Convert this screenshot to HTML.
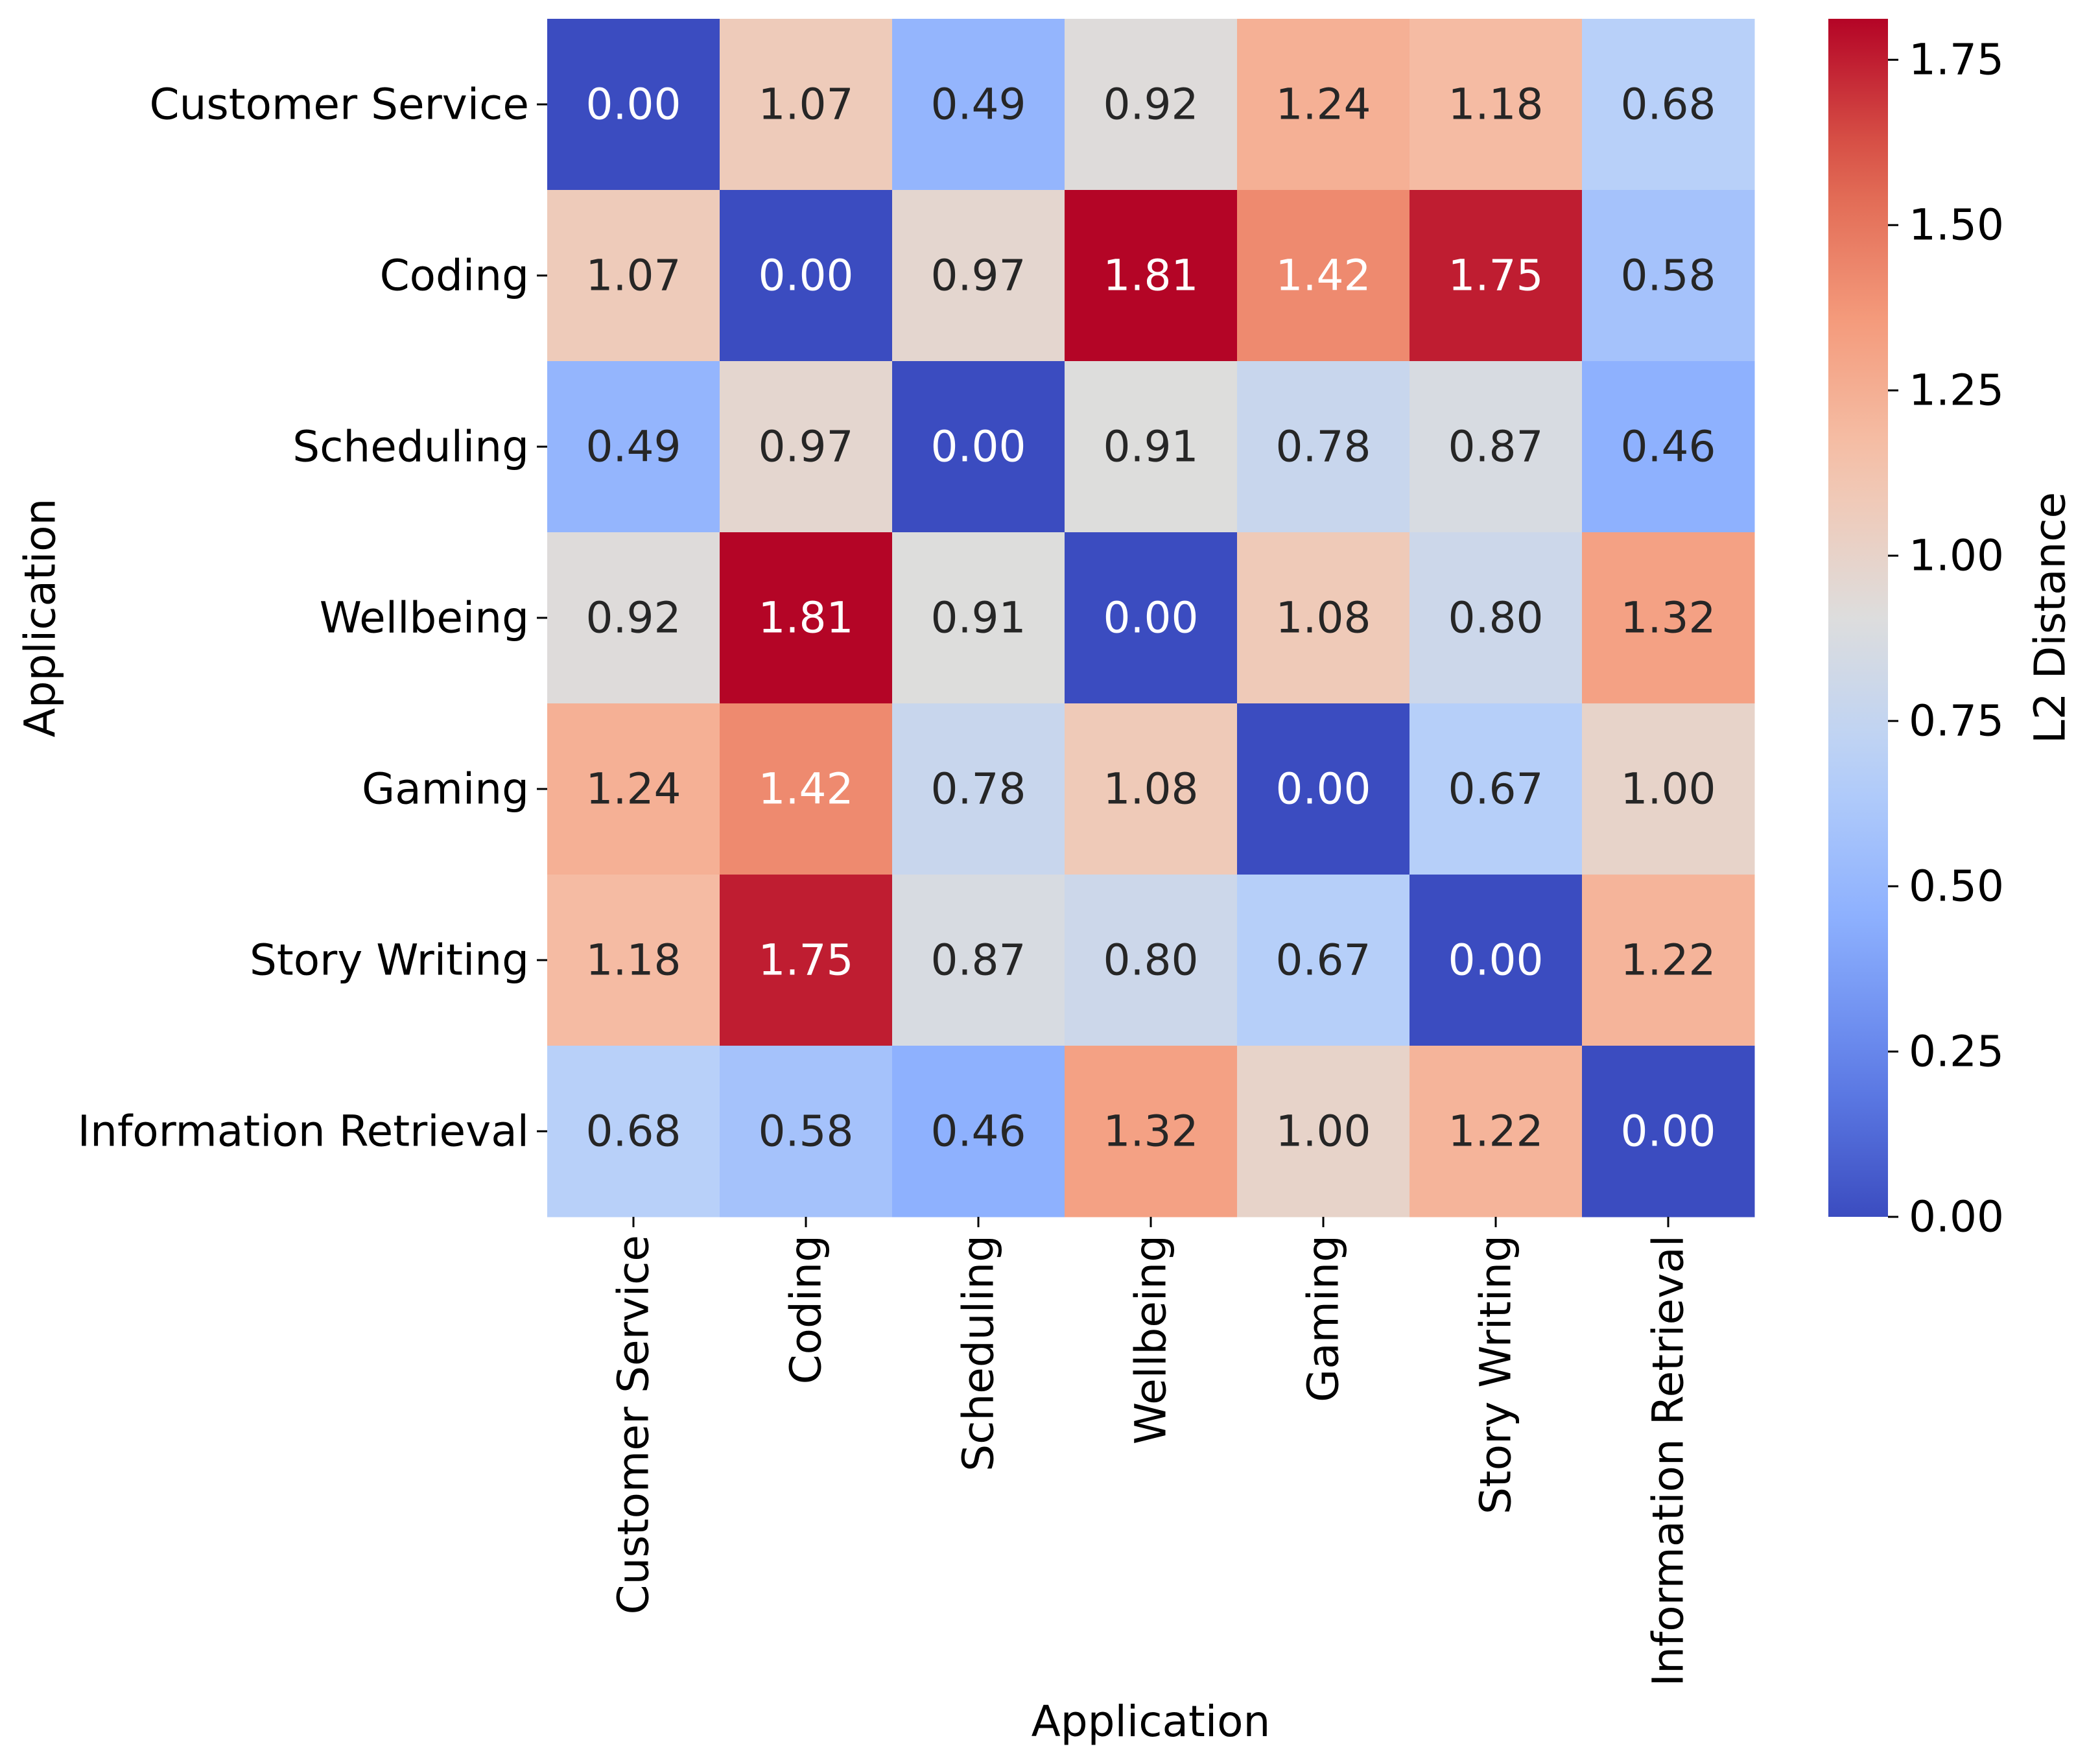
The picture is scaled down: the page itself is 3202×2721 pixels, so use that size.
<!DOCTYPE html>
<html><head><meta charset="utf-8">
<style>
html,body{margin:0;padding:0;background:#fff;}
svg{display:block;}
text{font-family:"DejaVu Sans","Liberation Sans",sans-serif;}
</style></head>
<body>
<svg id="chart" width="3202" height="2721" viewBox="0 0 3202 2721" xmlns="http://www.w3.org/2000/svg">
<defs><linearGradient id="cbgrad" x1="0" y1="1" x2="0" y2="0"></linearGradient></defs>
<g id="cells"></g>
<g id="ylabels"></g>
<g id="xlabels"></g>
<g id="cbar"></g>
<text x="1775" y="2678" font-size="66" text-anchor="middle">Application</text>
<text transform="translate(62,953) rotate(-90)" font-size="66" text-anchor="middle" dominant-baseline="central">Application</text>
<text transform="translate(3162,953) rotate(-90)" font-size="66" text-anchor="middle" dominant-baseline="central">L2 Distance</text>
</svg>
<script>
const categories = ["Customer Service","Coding","Scheduling","Wellbeing","Gaming","Story Writing","Information Retrieval"];
const row0 = [0.00,1.07,0.49,0.92,1.24,1.18,0.68];
const row1 = [1.07,0.00,0.97,1.81,1.42,1.75,0.58];
const row2 = [0.49,0.97,0.00,0.91,0.78,0.87,0.46];
const row3 = [0.92,1.81,0.91,0.00,1.08,0.80,1.32];
const row4 = [1.24,1.42,0.78,1.08,0.00,0.67,1.00];
const row5 = [1.18,1.75,0.87,0.80,0.67,0.00,1.22];
const row6 = [0.68,0.58,0.46,1.32,1.00,1.22,0.00];
const values = [row0,row1,row2,row3,row4,row5,row6];
const cbarTicks = [0,0.25,0.5,0.75,1.0,1.25,1.5,1.75];
const vmin = 0, vmax = 1.812;

const NS="http://www.w3.org/2000/svg";
const FS=66;
const L=844, T=29, R=2706, B=1877;
const n=categories.length, cw=(R-L)/n, ch=(B-T)/n;
const xPos=i=>L+i*cw, yPos=j=>T+j*ch;
const cbX=2820, cbW=92;
const cbY=v=>B-(v-vmin)/(vmax-vmin)*(B-T);

const cmapPts=[[0,59,76,192],[0.125,98,130,234],[0.25,141,176,254],[0.375,184,208,249],[0.5,221,221,221],[0.625,245,196,173],[0.75,244,154,123],[0.875,222,96,77],[1,180,4,38]];
function cmap(t){t=Math.max(0,Math.min(1,t));
 for(let k=0;k<cmapPts.length-1;k++){const a=cmapPts[k],b=cmapPts[k+1];
  if(t<=b[0]){const f=(t-a[0])/(b[0]-a[0]);return [1,2,3].map(i=>Math.round(a[i]+f*(b[i]-a[i])));}}
 return cmapPts[cmapPts.length-1].slice(1);}
function lum(c){const l=c.map(v=>{v/=255;return v<=0.03928?v/12.92:Math.pow((v+0.055)/1.055,2.4);});return 0.2126*l[0]+0.7152*l[1]+0.0722*l[2];}
function mk(tag,attrs,parent){const e=document.createElementNS(NS,tag);for(const k in attrs)e.setAttribute(k,attrs[k]);parent.appendChild(e);return e;}

const cells=document.getElementById('cells');
values.forEach((row,j)=>row.forEach((v,i)=>{
 const c=cmap((v-vmin)/(vmax-vmin));
 const r=mk('rect',{x:xPos(i),y:yPos(j),width:cw+0.5,height:ch+0.5,fill:`rgb(${c})`},cells);
 
 
 const t=mk('text',{x:xPos(i)+cw/2,y:yPos(j)+ch/2,'font-size':FS,'text-anchor':'middle','dominant-baseline':'central',fill:lum(c)>0.408?'#262626':'#ffffff'},cells);
 t.textContent=v.toFixed(2);
 
 
}));

const yl=document.getElementById('ylabels'), xl=document.getElementById('xlabels');
categories.forEach((name,k)=>{
 const cy=yPos(k)+ch/2;
 mk('line',{x1:L-16,x2:L,y1:cy,y2:cy,stroke:'#000','stroke-width':3},yl);
 const t=mk('text',{x:L-28,y:cy,'font-size':FS,'text-anchor':'end','dominant-baseline':'central'},yl);
 t.textContent=name;
 
 
 const cx=xPos(k)+cw/2;
 mk('line',{x1:cx,x2:cx,y1:B,y2:B+16,stroke:'#000','stroke-width':3},xl);
 const u=mk('text',{transform:`translate(${cx},${B+28}) rotate(-90)`,'font-size':FS,'text-anchor':'end','dominant-baseline':'central'},xl);
 u.textContent=name;
 
 
});

const grad=document.getElementById('cbgrad');
for(let s=0;s<=20;s++){const c=cmap(s/20);mk('stop',{offset:(s/20),'stop-color':`rgb(${c})`},grad);}
const cb=document.getElementById('cbar');
const cr=mk('rect',{x:cbX,y:T,width:cbW,height:B-T,fill:'url(#cbgrad)'},cb);


cbarTicks.forEach(v=>{
 const y=cbY(v);
 mk('line',{x1:cbX+cbW,x2:cbX+cbW+16,y1:y,y2:y,stroke:'#000','stroke-width':3},cb);
 const t=mk('text',{x:cbX+cbW+32,y:y,'font-size':FS,'dominant-baseline':'central'},cb);
 t.textContent=v.toFixed(2);
 
 
});
</script>
</body></html>
